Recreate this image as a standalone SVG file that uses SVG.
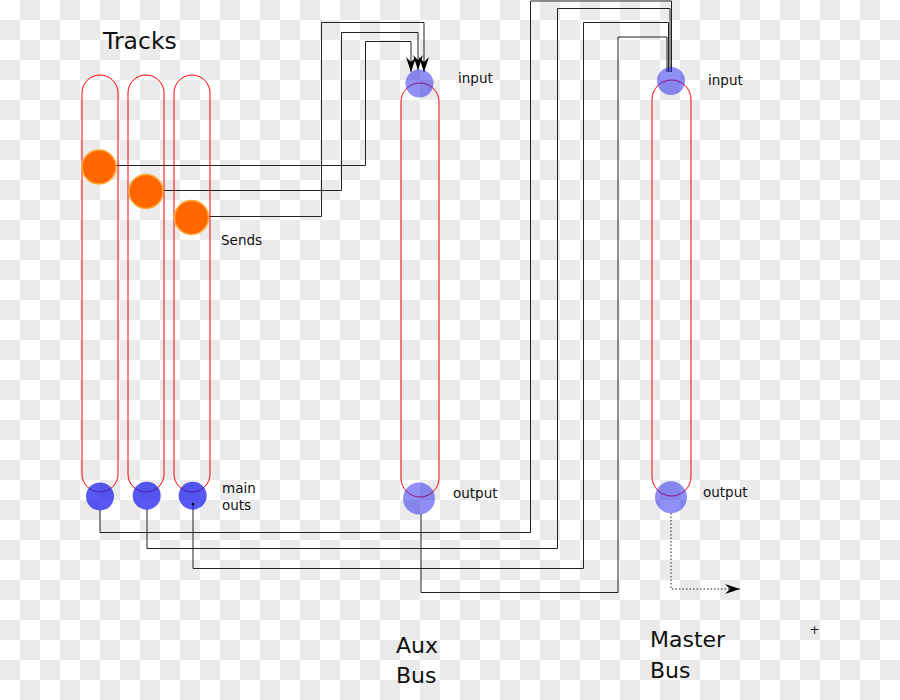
<svg xmlns="http://www.w3.org/2000/svg" width="900" height="700" viewBox="0 0 900 700">
<style>
.txt{font-family:"DejaVu Sans","Liberation Sans",sans-serif;fill:#111}
.sm{font-size:13.5px}
.cap{fill:none;stroke:#ff0000;stroke-width:1}
.send{fill:#ff6600;stroke:#ffaa33;stroke-width:1.5}
.tout{fill:#2020ee;fill-opacity:0.75}
.bus{fill:#2020ee;fill-opacity:0.5}
.con{fill:none;stroke:#222;stroke-width:1}
</style>
<defs>
<pattern id="chk" width="40" height="40" patternUnits="userSpaceOnUse">
<rect width="40" height="40" fill="#ffffff"/>
<rect x="20" y="0" width="20" height="20" fill="#ebebeb"/>
<rect x="0" y="20" width="20" height="20" fill="#ebebeb"/>
</pattern>
<marker id="arr" markerWidth="18" markerHeight="12" viewBox="-16 -6 18 12" refX="0" refY="0" orient="auto" markerUnits="userSpaceOnUse">
<path d="M0,0 L-15,-5 L-10,0 L-15,5 z" fill="#000"/>
</marker>
</defs>
<rect width="900" height="700" fill="url(#chk)"/>

<g id="connectors">
<path class="con" d="M116,165.5 H365.5 V41.5 H411 V72" marker-end="url(#arr)"/>
<path class="con" d="M163,190.5 H341.5 V32.5 H418 V70" marker-end="url(#arr)"/>
<path class="con" d="M209,216.5 H321.5 V22.5 H424 V72" marker-end="url(#arr)"/>
<path class="con" d="M100,510 V532.5 H530.5 V1 H671.5 V72"/>
<path class="con" d="M147,509 V548.5 H557.5 V8.5 H670 V72"/>
<path class="con" d="M193,504 V568.5 H583.5 V22.5 H668.5 V72"/>
<path class="con" d="M421,514 V592.5 H618 V37 H667 V72"/>
<path class="con" d="M671,513 V589 H740" stroke-dasharray="1.5,2" marker-end="url(#arr)"/>
</g>

<g id="track1">
<rect class="cap" x="82" y="75" width="36" height="417" rx="18"/>
<circle class="send" cx="99" cy="167" r="17"/>
<circle class="tout" cx="100" cy="496.5" r="14"/>
</g>
<g id="track2">
<rect class="cap" x="128" y="75" width="36" height="417" rx="18"/>
<circle class="send" cx="146" cy="191.5" r="17"/>
<circle class="tout" cx="146.7" cy="495.7" r="14"/>
</g>
<g id="track3">
<rect class="cap" x="174" y="75" width="36" height="417" rx="18"/>
<circle class="send" cx="191.5" cy="217.5" r="17"/>
<circle class="tout" cx="192.7" cy="495.7" r="14"/>
<circle cx="193" cy="504" r="1.3" fill="#000"/>
</g>
<g id="labels-tracks">
<text class="txt" x="103" y="49" font-size="23.5">Tracks</text>
<text class="txt sm" x="221" y="244.5">Sends</text>
<text class="txt sm" x="222" y="493">main</text>
<text class="txt sm" x="222" y="510">outs</text>
</g>

<g id="aux-bus">
<rect class="cap" x="401" y="83" width="38" height="414" rx="19"/>
<circle class="bus" cx="419.5" cy="83.5" r="14"/>
<circle class="bus" cx="419" cy="498.5" r="16"/>
<text class="txt sm" x="458" y="83">input</text>
<text class="txt sm" x="453" y="497.5">output</text>
<text class="txt" x="396" y="653" font-size="22">Aux</text>
<text class="txt" x="396" y="683" font-size="22">Bus</text>
</g>

<g id="master-bus">
<rect class="cap" x="652" y="80" width="39" height="416" rx="19.5"/>
<circle class="bus" cx="671" cy="81" r="14"/>
<circle class="bus" cx="671" cy="497.3" r="16"/>
<text class="txt sm" x="708" y="85">input</text>
<text class="txt sm" x="703" y="497">output</text>
<text class="txt" x="650" y="647" font-size="22">Master</text>
<text class="txt" x="650" y="677.5" font-size="22">Bus</text>
</g>

<text class="txt" x="809.5" y="634" font-size="12">+</text>
</svg>
